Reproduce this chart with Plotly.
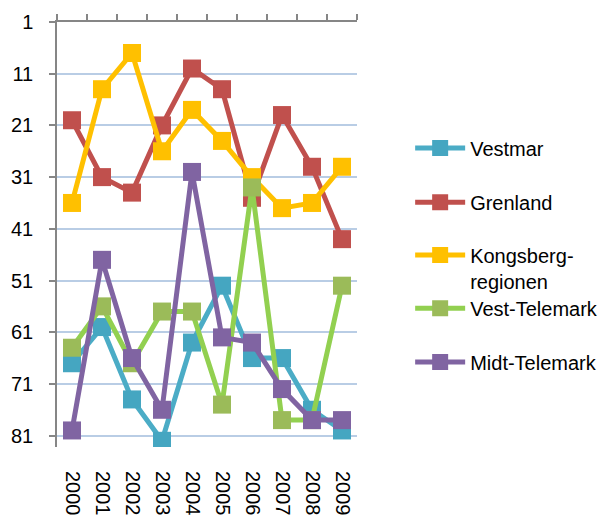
import plotly.graph_objects as go

# Yearly rank per region (1 = best), 2000-2009
years = ["2000", "2001", "2002", "2003", "2004", "2005", "2006", "2007", "2008", "2009"]
vestmar = [67, 60, 74, 82, 63, 52, 66, 66, 76, 80]
grenland = [20, 31, 34, 21, 10, 14, 35, 19, 29, 43]
kongsberg = [36, 14, 7, 26, 18, 24, 31, 37, 36, 29]
vest_telemark = [64, 56, 67, 57, 57, 75, 33, 78, 78, 52]
midt_telemark = [80, 47, 66, 76, 30, 62, 63, 72, 78, 78]
y_ticks = [1, 11, 21, 31, 41, 51, 61, 71, 81]

series = [
    ("Vestmar", vestmar, "#4BACC6", "#45A6C1"),
    ("Grenland", grenland, "#C0504D", "#C0504D"),
    ("Kongsberg-<br>regionen", kongsberg, "#FFC000", "#FFC000"),
    ("Vest-Telemark", vest_telemark, "#92D050", "#9BBB59"),
    ("Midt-Telemark", midt_telemark, "#8064A2", "#8064A2"),
]

FONT = "Liberation Sans, Arial, sans-serif"
FS = 20

fig = go.Figure()
for i, (name, vals, lc, mc) in enumerate(series):
    fig.add_trace(go.Scatter(
        x=years, y=vals, name=name, mode="lines+markers",
        line=dict(color=lc, width=5),
        marker=dict(symbol="square", size=18, color=mc),
        legend="legend" if i == 0 else f"legend{i + 1}",
    ))

# Invisible helper trace so the top category axis (line + ticks) renders
fig.add_trace(go.Scatter(x=years, y=[None] * len(years), xaxis="x2",
                         showlegend=False, hoverinfo="skip"))

# One legend box per series (container-relative) so entries sit evenly spaced
legend_y = [0.7137, 0.609, 0.4816, 0.404, 0.2998]
leg_common = dict(font=dict(family=FONT, size=FS, color="#000"),
                  bgcolor="rgba(0,0,0,0)", itemwidth=50, valign="top",
                  xref="container", yref="container",
                  xanchor="left", yanchor="middle", x=0.668)
legends = {}
for i, yy in enumerate(legend_y):
    key = "legend" if i == 0 else f"legend{i + 1}"
    legends[key] = dict(leg_common, y=yy)

fig.update_layout(
    width=614, height=517,
    margin=dict(l=57, r=257, t=22, b=70),
    paper_bgcolor="white", plot_bgcolor="white",
    font=dict(family=FONT, size=FS, color="#000"),
    xaxis=dict(type="category", categoryorder="array", categoryarray=years,
               range=[-0.5, 9.5], tickangle=90, showline=False, ticks="",
               showgrid=False, zeroline=False, ticklabelstandoff=23,
               automargin=False,
               tickfont=dict(family=FONT, size=FS, color="#000")),
    xaxis2=dict(type="category", categoryorder="array", categoryarray=years,
                range=[-0.5, 9.5], overlaying="x", side="top", matches="x",
                showline=True, linecolor="#868686", linewidth=1.5,
                ticks="outside", ticklen=6, tickcolor="#868686", tickwidth=1.5,
                tickson="boundaries", showticklabels=False, showgrid=False,
                automargin=False),
    yaxis=dict(range=[83.2, 1], tickvals=y_ticks, showgrid=True,
               gridcolor="#B9CDE5", gridwidth=1.5, zeroline=False,
               showline=True, linecolor="#868686", linewidth=1.5,
               ticks="outside", ticklen=6, tickcolor="#868686", tickwidth=1.5,
               ticklabelstandoff=12, automargin=False,
               tickfont=dict(family=FONT, size=FS, color="#000")),
    showlegend=True,
    **legends,
)

fig.write_html("out.html")
